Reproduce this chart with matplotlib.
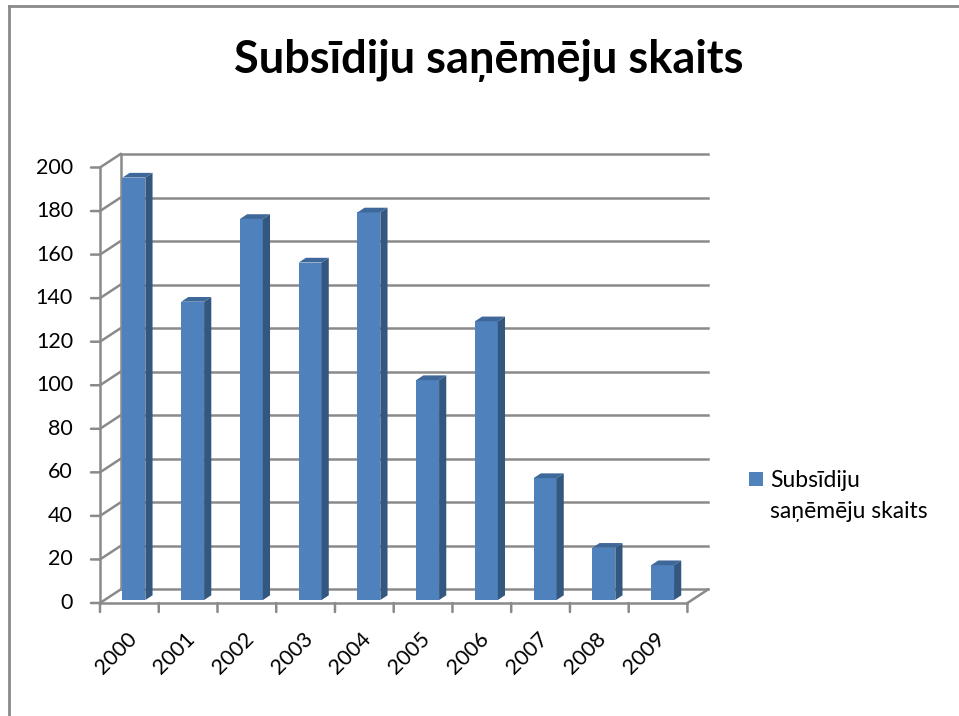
import matplotlib.pyplot as plt
from matplotlib.patches import Polygon
from matplotlib import transforms
import numpy as np

years = ['2000', '2001', '2002', '2003', '2004', '2005', '2006', '2007', '2008', '2009']
values = [194, 137, 175, 155, 178, 101, 128, 56, 24, 16]
y_ticks = [0, 20, 40, 60, 80, 100, 120, 140, 160, 180, 200]
title = 'Subsīdiju saņēmēju skaits'
legend_lines = ['Subsīdiju', 'saņēmēju skaits']

plt.rcParams['font.family'] = ['Lato', 'DejaVu Sans']

W, H = 959, 716
fig = plt.figure(figsize=(W / 100, H / 100), dpi=100)

# oblique "3d" depth of the wall, in data units
dx, dy = 0.35, 6.2
ax = fig.add_axes([100 / W, (H - 603) / H, (708 - 100) / W, (603 - 154) / H])
ax.set_xlim(-0.5, len(years) - 0.5 + dx)
ax.set_ylim(0, 200 + dy)
ax.axis('off')

grid_c = '#8a8a8a'
lw = 1.8
x0, x1 = -0.5, len(years) - 0.5

# back wall gridlines + left wall diagonals
for v in y_ticks:
    ax.plot([x0 + dx, x1 + dx], [v + dy, v + dy], color=grid_c, lw=lw, clip_on=False, zorder=1)
    ax.plot([x0, x0 + dx], [v, v + dy], color=grid_c, lw=lw, clip_on=False, zorder=1)
ax.plot([x0 + dx, x0 + dx], [dy, 200 + dy], color=grid_c, lw=lw, clip_on=False, zorder=1)
# front axis, floor
ax.plot([x0, x0], [0, 200], color=grid_c, lw=lw, clip_on=False, zorder=1)
ax.plot([x0, x1], [0, 0], color=grid_c, lw=lw, clip_on=False, zorder=1)
ax.plot([x1, x1 + dx], [0, dy], color=grid_c, lw=lw, clip_on=False, zorder=1)

# ticks
px = transforms.offset_copy
for v in y_ticks:
    ax.annotate('', xy=(x0, v), xytext=(-9, 0), textcoords='offset pixels',
                arrowprops=dict(arrowstyle='-', color=grid_c, lw=lw, shrinkA=0, shrinkB=0))
    ax.text(x0, v, str(v), transform=px(ax.transData, fig, x=-27, y=0, units='dots'),
            ha='right', va='center', fontsize=15.5, color='#000000')
for i in range(len(years) + 1):
    ax.annotate('', xy=(x0 + i, 0), xytext=(0, -9), textcoords='offset pixels',
                arrowprops=dict(arrowstyle='-', color=grid_c, lw=lw, shrinkA=0, shrinkB=0))
for i, yr in enumerate(years):
    ax.text(i, 0, yr, transform=px(ax.transData, fig, x=11, y=-26, units='dots'),
            ha='right', va='top', rotation=45, fontsize=15.5, color='#000000')

# bars
front_c, side_c, top_c = '#4f81bd', '#34577f', '#3e679a'
z0, depth = 0.22, 0.35
bw = 0.39
ox, oy = z0 * dx, z0 * dy
ddx, ddy = depth * dx, depth * dy
xs = np.arange(len(years)) + ox
ax.bar(xs, values, width=bw, bottom=oy, color=front_c, zorder=3)
for x, v in zip(xs, values):
    r, l = x + bw / 2, x - bw / 2
    ax.add_patch(Polygon([(r, oy), (r, oy + v), (r + ddx, oy + v + ddy), (r + ddx, oy + ddy)],
                         closed=True, facecolor=side_c, edgecolor='none', zorder=3))
    ax.add_patch(Polygon([(l, oy + v), (r, oy + v), (r + ddx, oy + v + ddy), (l + ddx, oy + v + ddy)],
                         closed=True, facecolor=top_c, edgecolor='none', zorder=3))

# title
fig.text(489 / W, 1 - 60 / H, title, ha='center', va='center', fontsize=32.5, fontweight='bold')

# legend
fig.patches.append(plt.Rectangle((749 / W, 1 - 486 / H), 14 / W, 14 / H, facecolor=front_c,
                                 transform=fig.transFigure, figure=fig))
fig.text(770 / W, 1 - 487 / H, legend_lines[0], ha='left', va='baseline', fontsize=16.5)
fig.text(770 / W, 1 - 518 / H, legend_lines[1], ha='left', va='baseline', fontsize=16.5)

# outer frame (left and top only)
fig.add_artist(plt.Line2D([9 / W, 9 / W], [0, 1 - 6 / H], color='#8a8a8a', lw=2,
                          transform=fig.transFigure))
fig.add_artist(plt.Line2D([9 / W, 1], [1 - 6 / H, 1 - 6 / H], color='#8a8a8a', lw=2,
                          transform=fig.transFigure))

fig.savefig('out.png', dpi=100)
